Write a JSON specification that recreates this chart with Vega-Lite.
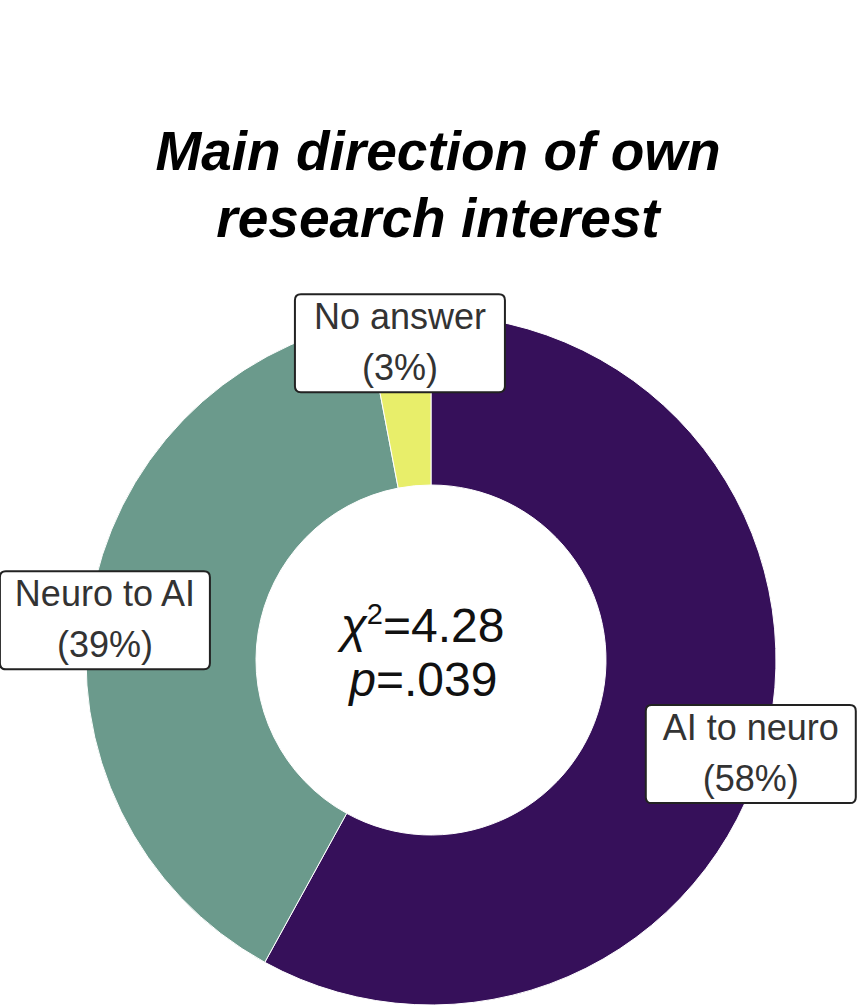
{
  "$schema": "https://vega.github.io/schema/vega-lite/v6.json",
  "width": 862,
  "height": 690,
  "autosize": "none",
  "padding": {"left": 0, "right": 0, "top": 315, "bottom": 3},
  "background": "white",
  "config": {"view": {"stroke": null}},
  "title": {
    "text": ["Main direction of own", "research interest"],
    "font": "Liberation Sans",
    "fontSize": 55,
    "fontWeight": "bold",
    "fontStyle": "italic",
    "color": "#000000",
    "lineHeight": 67,
    "anchor": "middle",
    "dx": 7,
    "offset": 41
  },
  "data": {
    "values": [
      {"category": "AI to neuro", "value": 58, "order": 1, "label": "AI to neuro\n(58%)"},
      {"category": "Neuro to AI", "value": 39, "order": 2, "label": "Neuro to AI\n(39%)"},
      {"category": "No answer", "value": 3, "order": 3, "label": "No answer\n(3%)"}
    ]
  },
  "layer": [
    {
      "mark": {"type": "arc", "outerRadius": 345, "innerRadius": 175, "stroke": "white", "strokeWidth": 1},
      "encoding": {
        "theta": {"field": "value", "type": "quantitative", "stack": true},
        "order": {"field": "order", "type": "quantitative"},
        "color": {
          "field": "category",
          "type": "nominal",
          "scale": {"domain": ["AI to neuro", "Neuro to AI", "No answer"], "range": ["#36105a", "#6b9a8c", "#e8ee6a"]},
          "legend": null
        }
      }
    },
    {
      "transform": [
        {"joinaggregate": [{"op": "sum", "field": "value", "as": "total"}]},
        {"window": [{"op": "sum", "field": "value", "as": "cum"}], "sort": [{"field": "order"}], "frame": [null, 0]},
        {"calculate": "2*PI*(datum.cum - datum.value/2)/datum.total", "as": "angle"},
        {"calculate": "0.957*sin(datum.angle)", "as": "lx"},
        {"calculate": "0.957*cos(datum.angle)", "as": "ly"}
      ],
      "layer": [
        {
          "mark": {
            "type": "point",
            "shape": "M -0.943 -0.353 H 0.943 Q 1 -0.353 1 -0.296 V 0.524 Q 1 0.581 0.943 0.581 H -0.943 Q -1 0.581 -1 0.524 V -0.296 Q -1 -0.353 -0.943 -0.353 Z",
            "size": 44100,
            "filled": true,
            "fill": "white",
            "stroke": "#222222",
            "strokeWidth": 2,
            "opacity": 1,
            "fillOpacity": 1,
            "strokeOpacity": 1
          },
          "encoding": {
            "x": {"field": "lx", "type": "quantitative", "scale": {"domain": [-1.2493, 1.2493], "nice": false, "zero": false}, "axis": null},
            "y": {"field": "ly", "type": "quantitative", "scale": {"domain": [-1, 1], "nice": false, "zero": false}, "axis": null}
          }
        },
        {
          "mark": {
            "type": "text",
            "lineBreak": "\n",
            "font": "Liberation Sans",
            "fontSize": 36,
            "lineHeight": 51,
            "color": "#333333",
            "align": "center",
            "baseline": "middle",
            "dy": -13.5
          },
          "encoding": {
            "x": {"field": "lx", "type": "quantitative"},
            "y": {"field": "ly", "type": "quantitative"},
            "text": {"field": "label", "type": "nominal"}
          }
        }
      ]
    },
    {
      "data": {"values": [{}]},
      "layer": [
        {"mark": {"type": "text", "text": "χ", "font": "Liberation Sans", "fontStyle": "italic", "fontSize": 48, "color": "#111111", "align": "right", "baseline": "alphabetic", "dx": -64, "dy": -18}, "encoding": {}},
        {"mark": {"type": "text", "text": "2", "font": "Liberation Sans", "fontSize": 29, "color": "#111111", "align": "right", "baseline": "alphabetic", "dx": -48, "dy": -36}, "encoding": {}},
        {"mark": {"type": "text", "text": "=4.28", "font": "Liberation Sans", "fontSize": 48, "color": "#111111", "align": "left", "baseline": "alphabetic", "dx": -48, "dy": -18}, "encoding": {}},
        {"mark": {"type": "text", "text": "p", "font": "Liberation Sans", "fontStyle": "italic", "fontSize": 48, "color": "#111111", "align": "right", "baseline": "alphabetic", "dx": -55, "dy": 36}, "encoding": {}},
        {"mark": {"type": "text", "text": "=.039", "font": "Liberation Sans", "fontSize": 48, "color": "#111111", "align": "left", "baseline": "alphabetic", "dx": -55, "dy": 36}, "encoding": {}}
      ]
    }
  ]
}
